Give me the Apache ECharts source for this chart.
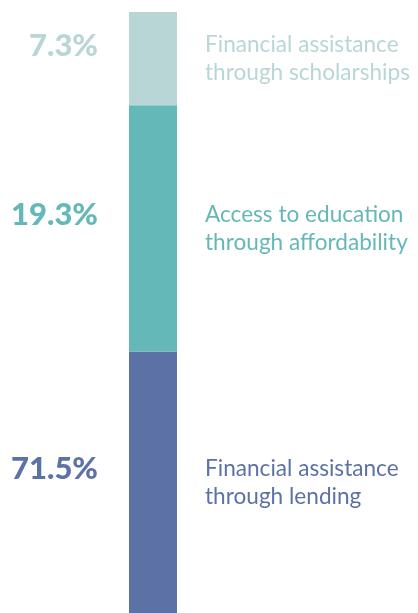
<!DOCTYPE html>
<html>
<head>
<meta charset="utf-8">
<script src="https://cdn.jsdelivr.net/npm/echarts@6/dist/echarts.min.js"></script>
<style>
html,body{margin:0;padding:0;background:#fff;}
#chart{width:418px;height:613px;}
</style>
</head>
<body>
<div id="chart"></div>
<script>
// Data (bottom to top of the stack)
const categories = ['Total'];
const segmentNames = ['Financial assistance\nthrough lending', 'Access to education\nthrough affordability', 'Financial assistance\nthrough scholarships'];
const segmentValues = [71.5, 19.3, 7.3];
const segmentColors = ['#5c72a7', '#64b9b8', '#b9d6d6'];
const axisMin = 51;
const axisMax = 98.1;

const chart = echarts.init(document.getElementById('chart'), null, {renderer: 'canvas'});

const series = [];
segmentValues.forEach((v, i) => {
  series.push({
    name: segmentNames[i],
    type: 'bar',
    stack: 'main',
    barWidth: 48,
    barGap: '-100%',
    clip: true,
    data: [v],
    itemStyle: {color: segmentColors[i]},
    label: {
      show: true,
      position: 'right',
      distance: 28,
      formatter: () => segmentNames[i],
      color: segmentColors[i],
      fontFamily: 'Lato',
      fontSize: 22.6,
      lineHeight: 28,
      align: 'left'
    },
    emphasis: {disabled: true},
    silent: true
  });
});
segmentValues.forEach((v, i) => {
  series.push({
    name: 'pct' + i,
    type: 'bar',
    stack: 'pct',
    barWidth: 48,
    barGap: '-100%',
    clip: true,
    data: [v],
    itemStyle: {color: 'rgba(0,0,0,0)'},
    label: {
      show: true,
      position: 'left',
      distance: 31,
      offset: [0, -13],
      formatter: (p) => p.value.toFixed(1) + '%',
      color: segmentColors[i],
      fontFamily: 'Lato',
      fontWeight: 900,
      fontSize: 31
    },
    emphasis: {disabled: true},
    silent: true
  });
});

chart.setOption({
  animation: false,
  backgroundColor: '#ffffff',
  grid: {left: 0, right: 112, top: 12, bottom: 0, containLabel: false},
  xAxis: {type: 'category', data: categories, show: false},
  yAxis: {type: 'value', min: axisMin, max: axisMax, show: false},
  series: series
});
</script>
</body>
</html>
